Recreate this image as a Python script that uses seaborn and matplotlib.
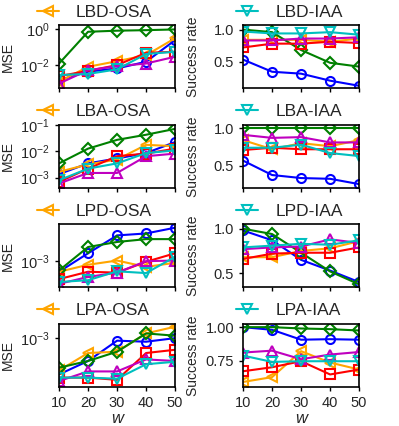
import pandas as pd
import seaborn as sns
import matplotlib.pyplot as plt

# x values (window size w)
w = [10, 20, 30, 40, 50]
series = ['blue', 'orange', 'green', 'red', 'magenta', 'cyan']
osa_names = ['LBD-OSA', 'LBA-OSA', 'LPD-OSA', 'LPA-OSA']
iaa_names = ['LBD-IAA', 'LBA-IAA', 'LPD-IAA', 'LPA-IAA']

# MSE values (left column)
lbd_mse = {
    'blue':    [0.00145, 0.0043, 0.0065, 0.0155, 0.25],
    'orange':  [0.00117, 0.0081, 0.0166, 0.036, 0.32],
    'green':   [0.0123, 0.74, 0.85, 0.91, 1.0],
    'red':     [0.0024, 0.0048, 0.010, 0.049, 0.056],
    'magenta': [0.00093, 0.0052, 0.0087, 0.0123, 0.0295],
    'cyan':    [0.0028, 0.0032, 0.0058, 0.042, 0.056],
}
lba_mse = {
    'blue':    [0.00135, 0.0035, 0.0054, 0.0087, 0.023],
    'orange':  [0.00166, 0.0032, 0.0049, 0.018, 0.016],
    'green':   [0.0035, 0.0129, 0.028, 0.044, 0.074],
    'red':     [0.00068, 0.0022, 0.0066, 0.0083, 0.0129],
    'magenta': [0.00059, 0.0015, 0.0015, 0.0066, 0.0083],
    'cyan':    [0.00079, 0.0022, 0.0035, 0.0087, 0.011],
}
lpd_mse = {
    'blue':    [0.00071, 0.00129, 0.0023, 0.00245, 0.00295],
    'orange':  [0.00071, 0.00089, 0.00102, 0.00083, 0.00095],
    'green':   [0.00074, 0.00158, 0.00186, 0.00204, 0.00204],
    'red':     [0.00056, 0.00071, 0.00069, 0.00098, 0.00129],
    'magenta': [0.00048, 0.0006, 0.00069, 0.001, 0.00102],
    'cyan':    [0.00051, 0.00054, 0.00072, 0.00068, 0.00115],
}
lpa_mse = {
    'blue':    [0.00048, 0.00063, 0.00095, 0.00093, 0.001],
    'orange':  [0.00052, 0.00074, 0.00076, 0.0011, 0.00126],
    'green':   [0.00055, 0.00063, 0.00076, 0.0011, 0.00105],
    'red':     [0.00045, 0.00045, 0.00043, 0.00074, 0.00079],
    'magenta': [0.00042, 0.00051, 0.00051, 0.00065, 0.00063],
    'cyan':    [0.00045, 0.00045, 0.00044, 0.00059, 0.00062],
}

# Success rate values (right column)
lbd_sr = {
    'blue':    [0.53, 0.34, 0.31, 0.20, 0.12],
    'orange':  [0.84, 0.84, 0.84, 0.81, 0.86],
    'green':   [1.0, 0.96, 0.68, 0.48, 0.42],
    'red':     [0.72, 0.78, 0.78, 0.81, 0.79],
    'magenta': [0.83, 0.83, 0.86, 0.86, 0.88],
    'cyan':    [0.97, 0.94, 0.94, 0.96, 0.92],
}
lba_sr = {
    'blue':    [0.57, 0.38, 0.34, 0.33, 0.26],
    'orange':  [0.84, 0.72, 0.80, 0.76, 0.84],
    'green':   [1.0, 1.0, 1.0, 1.0, 1.0],
    'red':     [0.71, 0.74, 0.72, 0.72, 0.72],
    'magenta': [0.91, 0.87, 0.88, 0.81, 0.81],
    'cyan':    [0.74, 0.74, 0.78, 0.67, 0.63],
}
lpd_sr = {
    'blue':    [0.98, 0.87, 0.65, 0.53, 0.40],
    'orange':  [0.68, 0.68, 0.75, 0.78, 0.86],
    'green':   [1.0, 0.94, 0.73, 0.52, 0.375],
    'red':     [0.66, 0.72, 0.73, 0.73, 0.79],
    'magenta': [0.77, 0.79, 0.80, 0.88, 0.84],
    'cyan':    [0.79, 0.81, 0.83, 0.82, 0.87],
}
lpa_sr = {
    'blue':    [1.0, 0.98, 0.906, 0.91, 0.906],
    'orange':  [0.59, 0.626, 0.82, 0.735, 0.683],
    'green':   [1.0, 1.0, 0.99, 0.985, 0.975],
    'red':     [0.67, 0.70, 0.745, 0.646, 0.683],
    'magenta': [0.81, 0.824, 0.76, 0.795, 0.814],
    'cyan':    [0.787, 0.74, 0.745, 0.745, 0.745],
}

mse_data = [lbd_mse, lba_mse, lpd_mse, lpa_mse]
sr_data = [lbd_sr, lba_sr, lpd_sr, lpa_sr]

palette = {'blue': 'blue', 'orange': 'orange', 'green': 'green',
           'red': 'red', 'magenta': 'm', 'cyan': 'c'}
markers = {'blue': 'o', 'orange': '<', 'green': 'D',
           'red': 's', 'magenta': '^', 'cyan': 'v'}

mse_lims = [(0.0005, 1.74), (0.0004, 0.107), (0.000427, 0.0033), (0.000372, 0.001336)]
mse_ticks = [[1e-2, 1e0], [1e-3, 1e-2, 1e-1], [1e-3], [1e-3]]
sr_lims = [(0.08, 1.07), (0.21, 1.044), (0.34, 1.05), (0.552, 1.025)]
sr_ticks = [[0.5, 1.0], [0.5, 1.0], [0.5, 1.0], [0.75, 1.0]]


def to_long(d):
    rows = []
    for s in series:
        for x, v in zip(w, d[s]):
            rows.append({'w': x, 'value': v, 'method': s})
    return pd.DataFrame(rows)


sns.set_style('ticks')
plt.rcParams['font.family'] = ['Liberation Sans', 'DejaVu Sans']
plt.rcParams['mathtext.fontset'] = 'custom'
plt.rcParams['mathtext.rm'] = 'Liberation Sans'
plt.rcParams['mathtext.it'] = 'Liberation Sans:italic'

fig, axes = plt.subplots(4, 2, figsize=(3.99, 4.26), dpi=100)
fig.subplots_adjust(left=0.148, right=0.9, top=0.941, bottom=0.0915,
                    wspace=0.586, hspace=0.575)


def draw(ax, d, name, leg_idx, leg_x):
    sns.lineplot(data=to_long(d), x='w', y='value', hue='method', style='method',
                 hue_order=series, style_order=series, palette=palette,
                 markers=markers, dashes=False, errorbar=None, legend=False,
                 linewidth=1.5, markersize=6.5, ax=ax)
    for line in ax.lines:
        line.set_markerfacecolor('none')
        line.set_markeredgecolor(line.get_color())
        line.set_markeredgewidth(1.5)
    ax.legend([ax.lines[leg_idx]], [name], loc='center left',
              bbox_to_anchor=(leg_x, 1.205), frameon=False, fontsize=12.5,
              borderpad=0, borderaxespad=0, handlelength=1.25,
              handletextpad=1.0, markerscale=1.15)
    ax.set_xlim(10, 50)
    ax.set_xticks(w)
    for sp in ax.spines.values():
        sp.set_color('black')
        sp.set_linewidth(1.2)
    ax.tick_params(labelsize=10.5, length=3, width=1, color='black')


for i in range(4):
    axl = axes[i, 0]
    draw(axl, mse_data[i], osa_names[i], 1, -0.19)
    axl.set_yscale('log')
    axl.set_ylim(*mse_lims[i])
    axl.set_yticks(mse_ticks[i])
    axl.minorticks_off()
    axl.set_ylabel('MSE', fontsize=10)

    axr = axes[i, 1]
    draw(axr, sr_data[i], iaa_names[i], 5, -0.06)
    axr.set_ylim(*sr_lims[i])
    axr.set_yticks(sr_ticks[i])
    if i == 3:
        axr.set_yticklabels(['0.75', '1.00'])
    else:
        axr.set_yticklabels(['0.5', '1.0'])
    axr.set_ylabel('Success rate', fontsize=10)

    for ax in (axl, axr):
        if i < 3:
            ax.set_xticklabels([])
            ax.set_xlabel('')
        else:
            ax.set_xlabel('w', fontsize=12, style='italic', labelpad=1)

fig.align_ylabels(axes[:, 0])
fig.align_ylabels(axes[:, 1])
fig.savefig('out.png', dpi=100)
